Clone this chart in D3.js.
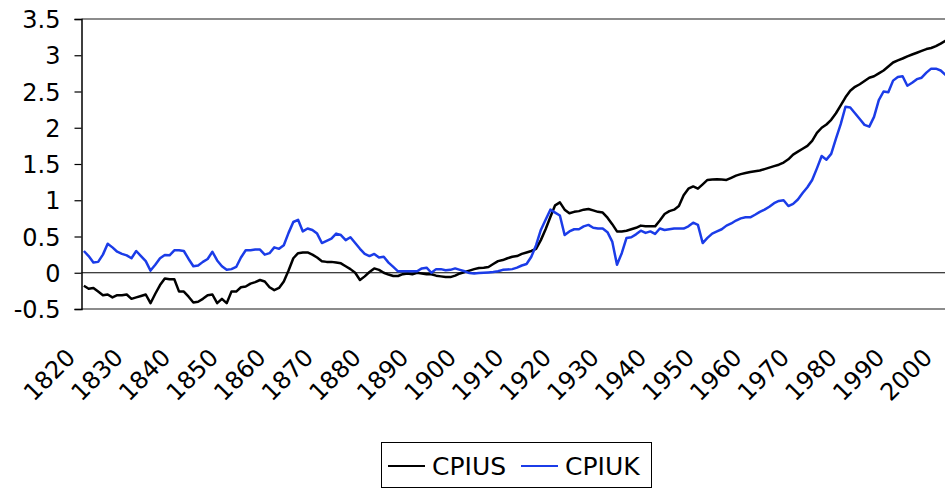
<!DOCTYPE html>
<html>
<head>
<meta charset="utf-8">
<script src="https://cdn.jsdelivr.net/npm/d3@7"></script>
<style>
  body { margin: 0; background: #fff; }
  svg { display: block; }
  svg text { font-family: "DejaVu Sans", Verdana, sans-serif; }
</style>
</head>
<body>
<div id="chart"></div>
<script>
// annual series, 1820 - 2002
var firstYear = 1820;
var cpiUS = [
  -0.18, -0.22, -0.21, -0.26, -0.31, -0.30, -0.34, -0.31, -0.31, -0.30,
  -0.36, -0.34, -0.32, -0.30, -0.42, -0.29, -0.17, -0.08, -0.09, -0.09,
  -0.26, -0.26, -0.33, -0.41, -0.40, -0.36, -0.31, -0.30, -0.42, -0.36,
  -0.42, -0.26, -0.26, -0.20, -0.19, -0.15, -0.13, -0.10, -0.12, -0.20,
  -0.24, -0.21, -0.12, 0.03, 0.20, 0.27, 0.28, 0.28, 0.25, 0.21,
  0.16, 0.15, 0.15, 0.14, 0.13, 0.09, 0.05, 0.00, -0.10, -0.05,
  0.01, 0.06, 0.04, 0.00, -0.025, -0.045, -0.045, -0.02, -0.01, -0.02,
  0.00, -0.01, -0.02, -0.02, -0.04, -0.05, -0.06, -0.06, -0.04, -0.01,
  0.01, 0.03, 0.05, 0.065, 0.07, 0.08, 0.12, 0.16, 0.175, 0.20,
  0.22, 0.23, 0.26, 0.28, 0.30, 0.33, 0.45, 0.60, 0.77, 0.93,
  0.97, 0.87, 0.82, 0.84, 0.85, 0.87, 0.88, 0.86, 0.84, 0.83,
  0.76, 0.67, 0.57, 0.57, 0.58, 0.60, 0.62, 0.65, 0.64, 0.64,
  0.64, 0.72, 0.81, 0.85, 0.87, 0.92, 1.07, 1.16, 1.19, 1.16,
  1.22, 1.28, 1.285, 1.29, 1.285, 1.28, 1.31, 1.34, 1.36, 1.375,
  1.39, 1.40, 1.41, 1.43, 1.45, 1.47, 1.49, 1.52, 1.565, 1.63,
  1.67, 1.71, 1.75, 1.82, 1.93, 2.00, 2.045, 2.11, 2.20, 2.31,
  2.42, 2.51, 2.565, 2.60, 2.645, 2.69, 2.71, 2.75, 2.79, 2.845,
  2.90, 2.93, 2.955, 2.985, 3.01, 3.035, 3.06, 3.085, 3.10, 3.125,
  3.16, 3.20, 3.23
];
var cpiUK = [
  0.30, 0.23, 0.14, 0.15, 0.25, 0.40, 0.35, 0.29, 0.26, 0.24,
  0.20, 0.30, 0.23, 0.16, 0.03, 0.11, 0.20, 0.245, 0.24, 0.31,
  0.31, 0.30, 0.19, 0.09, 0.10, 0.15, 0.19, 0.29, 0.17, 0.09,
  0.04, 0.05, 0.08, 0.21, 0.31, 0.31, 0.32, 0.32, 0.25, 0.27,
  0.35, 0.33, 0.38, 0.55, 0.70, 0.73, 0.57, 0.61, 0.59, 0.54,
  0.41, 0.44, 0.47, 0.54, 0.52, 0.45, 0.49, 0.41, 0.33, 0.26,
  0.23, 0.26, 0.21, 0.22, 0.14, 0.08, 0.02, 0.02, 0.02, 0.02,
  0.02, 0.06, 0.07, 0.00, 0.05, 0.05, 0.035, 0.04, 0.06, 0.04,
  0.02, -0.005, -0.01, -0.005, 0.00, 0.005, 0.01, 0.02, 0.04, 0.045,
  0.05, 0.07, 0.10, 0.12, 0.22, 0.38, 0.59, 0.73, 0.87, 0.83,
  0.79, 0.52, 0.57, 0.60, 0.60, 0.64, 0.66, 0.62, 0.61, 0.61,
  0.56, 0.43, 0.11, 0.27, 0.48, 0.49, 0.53, 0.58, 0.55, 0.57,
  0.535, 0.61, 0.59, 0.60, 0.61, 0.61, 0.61, 0.64, 0.69, 0.66,
  0.41, 0.48, 0.54, 0.57, 0.60, 0.65, 0.68, 0.72, 0.75, 0.765,
  0.765, 0.80, 0.84, 0.87, 0.91, 0.96, 0.99, 1.00, 0.92, 0.95,
  1.01, 1.10, 1.18, 1.28, 1.44, 1.61, 1.56, 1.64, 1.85, 2.05,
  2.29, 2.28, 2.20, 2.12, 2.04, 2.015, 2.15, 2.38, 2.50, 2.49,
  2.65, 2.70, 2.71, 2.58, 2.62, 2.67, 2.69, 2.76, 2.815, 2.815,
  2.79, 2.73, 2.70
];
var years = cpiUS.map((d, i) => firstYear + i);
var xTickLabels = [1820, 1830, 1840, 1850, 1860, 1870, 1880, 1890, 1900, 1910,
  1920, 1930, 1940, 1950, 1960, 1970, 1980, 1990, 2000];
var yTicks = [-0.5, 0, 0.5, 1, 1.5, 2, 2.5, 3, 3.5];
var seriesNames = ["CPIUS", "CPIUK"];
var seriesColors = ["#000000", "#1b3ce8"];

var width = 945;
var height = 489;
var plotLeft = 81.5;
var plotTop = 19;
var plotBottom = 309;
var bandW = 4.76;
var plotRight = plotLeft + years.length * bandW;
var fontFam = "DejaVu Sans, Verdana, sans-serif";

var svg = d3.select("#chart").append("svg")
    .attr("width", width)
    .attr("height", height);

var xScale = d3.scaleBand()
    .domain(years)
    .range([plotLeft, plotRight])
    .padding(0);

var yScale = d3.scaleLinear()
    .domain([-0.5, 3.5])
    .range([plotBottom, plotTop]);

function xc(yr) {
    return xScale(yr) + xScale.bandwidth() / 2;
}

// plot area border (grey top/bottom)
svg.append("line")
    .attr("x1", plotLeft).attr("x2", plotRight)
    .attr("y1", plotTop).attr("y2", plotTop)
    .attr("stroke", "#8c8c8c").attr("stroke-width", 2);
svg.append("line")
    .attr("x1", plotLeft).attr("x2", plotRight)
    .attr("y1", plotBottom).attr("y2", plotBottom)
    .attr("stroke", "#8c8c8c").attr("stroke-width", 2);

// y axis
var yAxis = svg.append("g")
    .attr("class", "y-axis")
    .attr("transform", "translate(" + plotLeft + ",0)")
    .call(d3.axisLeft(yScale).tickValues(yTicks).tickSize(7).tickPadding(14)
        .tickFormat(d => String(d)));
yAxis.attr("font-family", fontFam).attr("font-size", 24);
yAxis.select(".domain").attr("stroke", "#000").attr("stroke-width", 1.5);
yAxis.selectAll(".tick line").attr("stroke", "#000").attr("stroke-width", 1.2);
yAxis.selectAll("text")
    .attr("fill", "#000")
    .attr("dy", "0.36em");

// zero line (category axis)
svg.append("line")
    .attr("x1", plotLeft).attr("x2", plotRight)
    .attr("y1", yScale(0)).attr("y2", yScale(0))
    .attr("stroke", "#000").attr("stroke-width", 1.2);

// x labels, rotated
var xAxis = svg.append("g")
    .attr("class", "x-axis")
    .attr("transform", "translate(0," + plotBottom + ")")
    .call(d3.axisBottom(xScale).tickValues(xTickLabels).tickSize(0));
xAxis.attr("font-family", fontFam).attr("font-size", 24);
xAxis.select(".domain").remove();
xAxis.selectAll("text")
    .attr("x", 0)
    .attr("y", 0)
    .attr("dy", 0)
    .attr("transform", "translate(-7,50) rotate(-45)")
    .style("text-anchor", "end")
    .attr("fill", "#000");

// lines
var line = d3.line()
    .x((d, i) => xc(years[i]))
    .y(d => yScale(d));

svg.append("path")
    .datum(cpiUS)
    .attr("fill", "none")
    .attr("stroke", seriesColors[0])
    .attr("stroke-width", 2.5)
    .attr("stroke-linejoin", "round")
    .attr("d", line);

svg.append("path")
    .datum(cpiUK)
    .attr("fill", "none")
    .attr("stroke", seriesColors[1])
    .attr("stroke-width", 2.5)
    .attr("stroke-linejoin", "round")
    .attr("d", line);

// legend
var legend = svg.append("g").attr("class", "legend");
legend.append("rect")
    .attr("x", 381.5).attr("y", 442.5)
    .attr("width", 270).attr("height", 45)
    .attr("fill", "#fff")
    .attr("stroke", "#000").attr("stroke-width", 1);

var legendX = [388, 521];
seriesNames.forEach(function(name, i) {
    legend.append("line")
        .attr("x1", legendX[i]).attr("x2", legendX[i] + 37)
        .attr("y1", 466).attr("y2", 466)
        .attr("stroke", seriesColors[i]).attr("stroke-width", 2);
    legend.append("text")
        .attr("x", legendX[i] + 44)
        .attr("y", 475)
        .attr("font-family", fontFam)
        .attr("font-size", 25)
        .attr("fill", "#000")
        .text(name);
});
</script>
</body>
</html>
